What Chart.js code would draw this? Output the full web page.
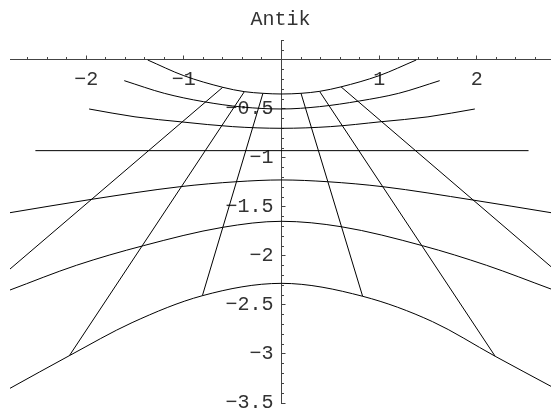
<!DOCTYPE html>
<html>
<head>
<meta charset="utf-8">
<title>Antik</title>
<script src="https://cdn.jsdelivr.net/npm/chart.js@4.4.0/dist/chart.umd.min.js"></script>
<style>
html, body { margin: 0; padding: 0; background: #fff; }
#wrap { width: 551px; height: 414px; }
</style>
</head>
<body>
<div id="wrap"><canvas id="chart" width="551" height="414"></canvas></div>
<script>
// upper arcs (opening up)
var arcA = [[-1.37,0],[-1.0,-0.16],[-0.6,-0.279],[-0.38,-0.323],[-0.19,-0.34],[0,-0.347],[0.2,-0.34],[0.39,-0.32],[0.61,-0.274],[1.0,-0.16],[1.38,0]];
var arcB = [[-1.61,-0.211],[-1.2,-0.34],[-0.8,-0.425],[-0.4,-0.48],[0,-0.5],[0.39,-0.476],[0.8,-0.418],[1.2,-0.34],[1.62,-0.211]];
var arcC = [[-1.97,-0.5],[-1.5,-0.58],[-1.02,-0.632],[-0.5,-0.68],[0,-0.697],[0.5,-0.68],[1.02,-0.63],[1.5,-0.58],[1.98,-0.5]];
// straight line in between
var lineD = [[-2.52,-0.925],[2.53,-0.925]];
// lower arcs (opening down)
var arcE = [[-2.78,-1.558],[-1.94,-1.421],[-1.04,-1.293],[-0.46,-1.242],[0,-1.224],[0.47,-1.242],[1.04,-1.293],[1.96,-1.429],[2.76,-1.558]];
var arcF = [[-2.78,-2.347],[-2.1,-2.095],[-1.415,-1.895],[-0.6,-1.707],[0,-1.646],[0.61,-1.701],[1.445,-1.895],[2.1,-2.095],[2.76,-2.337]];
var arcG = [[-2.78,-3.35],[-2.172,-3.017],[-1.53,-2.68],[-0.81,-2.405],[0,-2.279],[0.831,-2.411],[1.547,-2.67],[2.188,-3.023],[2.76,-3.33]];
// spokes from the top arc downwards
var spokeL1 = [[-0.602,-0.279],[-2.78,-2.133]];
var spokeL2 = [[-0.38,-0.323],[-2.172,-3.017]];
var spokeL3 = [[-0.19,-0.34],[-0.81,-2.405]];
var spokeR3 = [[0.2,-0.34],[0.831,-2.411]];
var spokeR2 = [[0.39,-0.32],[2.188,-3.023]];
var spokeR1 = [[0.61,-0.274],[2.76,-2.109]];

// axes
var xRange = [-2.78, 2.76];
var yRange = [-3.5, 0.204];
var xTicks = [-2, -1, 1, 2];
var yTicks = [-3.5, -3, -2.5, -2, -1.5, -1, -0.5];
var xMajorStep = 1, xMinorStep = 0.2;
var yMajorStep = 0.5, yMinorStep = 0.1;

var monoFont = "'Liberation Mono', 'Courier New', monospace";
var textColor = '#333';
var axisColor = '#444';

function pts(arr) {
	return arr.map(function(p){ return {x: p[0], y: p[1]}; });
}

function curve(arr) {
	return {
		data: pts(arr),
		showLine: true,
		borderColor: '#000',
		borderWidth: 1,
		pointRadius: 0,
		cubicInterpolationMode: 'monotone'
	};
}

function segment(arr) {
	return {
		data: pts(arr),
		showLine: true,
		borderColor: '#000',
		borderWidth: 1,
		pointRadius: 0,
		tension: 0
	};
}

function fmt(v) {
	return String(v).replace('-', '\u2212');
}

function noPadding(scale) {
	scale.paddingLeft = 0;
	scale.paddingRight = 0;
	scale.paddingTop = 0;
	scale.paddingBottom = 0;
}

function crisp(p) {
	return Math.round(p - 0.5) + 0.5;
}

// Mathematica style axes: ticks pointing up on x, right on y, y labels left of the axis
var axisMarks = {
	id: 'axisMarks',
	beforeDatasetsDraw: function(chart) {
		var ctx = chart.ctx;
		var xs = chart.scales.x, ys = chart.scales.y;
		var ax = crisp(xs.getPixelForValue(0));
		var ay = crisp(ys.getPixelForValue(0));
		var k, v, p, len;
		ctx.save();
		ctx.strokeStyle = axisColor;
		ctx.lineWidth = 1;
		ctx.beginPath();
		for (k = Math.ceil(xRange[0] / xMinorStep - 1e-9); k <= Math.floor(xRange[1] / xMinorStep + 1e-9); k++) {
			v = k * xMinorStep;
			len = Math.abs(v / xMajorStep - Math.round(v / xMajorStep)) < 1e-6 ? 4 : 2.5;
			p = crisp(xs.getPixelForValue(v));
			ctx.moveTo(p, ay);
			ctx.lineTo(p, ay - len);
		}
		for (k = Math.ceil(yRange[0] / yMinorStep - 1e-9); k <= Math.floor(yRange[1] / yMinorStep + 1e-9); k++) {
			v = k * yMinorStep;
			len = Math.abs(v / yMajorStep - Math.round(v / yMajorStep)) < 1e-6 ? 4 : 2.5;
			p = crisp(ys.getPixelForValue(v));
			ctx.moveTo(ax, p);
			ctx.lineTo(ax + len, p);
		}
		ctx.stroke();

		ctx.fillStyle = textColor;
		ctx.font = '20px ' + monoFont;
		ctx.textAlign = 'right';
		ctx.textBaseline = 'middle';
		ys.ticks.forEach(function(t){
			ctx.fillText(fmt(t.value), ax - 8, ys.getPixelForValue(t.value));
		});
		ctx.restore();
	}
};

var chart = new Chart(document.getElementById('chart'), {
	type: 'scatter',
	data: {
		datasets: [
			curve(arcA), curve(arcB), curve(arcC), segment(lineD),
			curve(arcE), curve(arcF), curve(arcG),
			segment(spokeL1), segment(spokeL2), segment(spokeL3),
			segment(spokeR3), segment(spokeR2), segment(spokeR1)
		]
	},
	options: {
		responsive: false,
		devicePixelRatio: 1,
		animation: false,
		layout: { padding: { left: 10, right: 0, top: 0, bottom: 11 } },
		plugins: {
			legend: { display: false },
			tooltip: { enabled: false },
			title: {
				display: true,
				text: 'Antik',
				fullSize: false,
				color: textColor,
				font: { family: monoFont, size: 20, weight: 'normal' },
				padding: { top: 8, bottom: 8 }
			}
		},
		scales: {
			x: {
				type: 'linear',
				min: xRange[0],
				max: xRange[1],
				position: { y: 0 },
				afterBuildTicks: function(scale) {
					scale.ticks = xTicks.map(function(v){ return {value: v}; });
				},
				afterFit: noPadding,
				grid: { drawOnChartArea: false, drawTicks: false },
				border: { color: axisColor, width: 1 },
				ticks: {
					padding: 8,
					autoSkip: false,
					maxRotation: 0,
					color: textColor,
					font: { family: monoFont, size: 20 },
					callback: fmt
				}
			},
			y: {
				type: 'linear',
				min: yRange[0],
				max: yRange[1],
				position: { x: 0 },
				afterBuildTicks: function(scale) {
					scale.ticks = yTicks.map(function(v){ return {value: v}; });
				},
				afterFit: noPadding,
				grid: { drawOnChartArea: false, drawTicks: false },
				border: { color: axisColor, width: 1 },
				ticks: { display: false }
			}
		}
	},
	plugins: [axisMarks]
});
</script>
</body>
</html>
